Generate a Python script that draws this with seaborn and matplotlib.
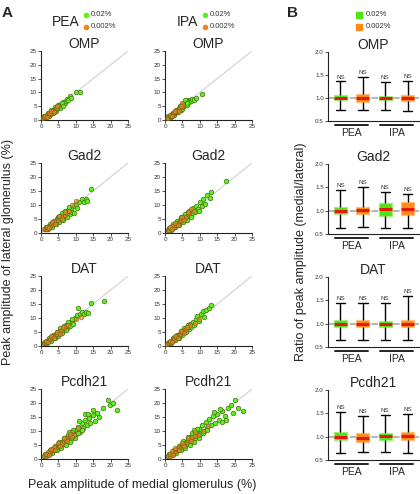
import numpy as np
import pandas as pd
import matplotlib
matplotlib.use("Agg")
import matplotlib.pyplot as plt
import matplotlib.transforms as mtrans
from matplotlib.lines import Line2D
from matplotlib.patches import Rectangle
import matplotlib.colors as mcolors
import seaborn as sns

sns.set_theme(style="white")
plt.rcParams['font.family'] = ['Liberation Sans', 'DejaVu Sans']

# ---------------- data ----------------
markers = ["OMP", "Gad2", "DAT", "Pcdh21"]
odorants = ["PEA", "IPA"]
concs = ["0.02%", "0.002%"]
axis_ticks = [0, 5, 10, 15, 20, 25]
ratio_ticks = [0.5, 1.0, 1.5, 2.0]
box_groups = ["PEA 0.02%", "PEA 0.002%", "IPA 0.02%", "IPA 0.002%"]

# (medial, lateral) peak amplitudes, %
omp_pea_hi = [(0.8,0.7),(1.1,1.2),(1.4,1.3),(1.6,1.8),(1.9,1.7),(2.1,2.2),(2.3,1.9),(2.5,2.6),(2.7,2.3),(2.9,3.0),(3.1,2.7),(3.3,3.4),(3.5,3.0),(3.7,3.7),(3.9,3.4),(4.1,4.1),(4.3,3.8),(4.5,4.6),(4.7,4.2),(4.9,5.0),(5.1,4.6),(5.3,5.4),(5.6,5.1),(5.8,5.9),(6.1,5.6),(6.4,6.5),(6.8,6.2),(7.1,7.0),(7.5,7.6),(7.9,7.3),(8.3,8.7),(8.7,8.1),(10.1,10.0),(11.2,10.3),
              (1.0,1.4),(1.5,1.0),(2.0,2.6),(2.4,1.6),(3.0,3.6),(3.4,2.5),(4.0,4.7),(4.4,3.3),(5.0,5.5),(5.4,4.2),(6.0,6.3),(6.2,5.0)]
omp_pea_lo = [(0.6,0.6),(0.9,1.0),(1.3,1.1),(1.6,1.5),(2.0,1.9),(2.4,2.3),(2.6,2.0),(2.9,2.7),(3.3,3.1),(3.6,3.4),(4.0,3.7),(4.3,4.2),(4.6,4.3),(5.0,4.9),(3.1,3.4),(2.2,2.5),
              (1.2,1.5),(1.8,1.2),(2.8,3.2),(3.8,3.0),(4.6,5.0)]
omp_ipa_hi = [(0.8,0.8),(1.1,1.0),(1.4,1.5),(1.7,1.6),(2.0,2.1),(2.3,2.0),(2.5,2.6),(2.8,2.5),(3.0,3.1),(3.3,2.9),(3.5,3.6),(3.8,3.4),(4.0,4.2),(4.3,3.9),(4.5,4.7),(4.8,4.4),(5.0,5.3),(5.2,4.8),(5.5,6.3),(5.8,5.7),(6.0,6.6),(6.3,5.5),(6.6,7.1),(6.9,6.4),(7.2,7.4),(7.5,6.9),(7.9,7.6),(8.3,7.2),(8.8,7.8),(5.7,7.2),(6.4,6.1),(10.5,9.6),
              (1.0,1.4),(1.6,1.1),(2.2,2.7),(2.6,1.9),(3.2,3.7),(3.6,2.8),(4.2,4.9),(4.6,3.6),(5.3,5.9),(5.0,4.1)]
omp_ipa_lo = [(0.6,0.6),(1.0,0.9),(1.3,1.3),(1.6,1.4),(2.0,1.8),(2.3,2.3),(2.7,2.4),(3.0,2.8),(3.3,3.2),(3.7,3.5),(4.0,3.9),(4.4,4.3),(4.8,4.8),(5.2,5.4),(4.9,6.0),(2.5,2.9),
              (1.3,1.7),(1.9,1.3),(2.9,3.3),(3.9,3.1),(4.5,5.0)]

gad2_pea_hi = [(1.2,1.6),(1.5,1.3),(1.8,2.0),(2.1,1.8),(2.4,2.6),(2.7,2.2),(3.0,3.2),(3.3,2.7),(3.5,3.8),(3.8,3.3),(4.0,4.4),(4.3,3.8),(4.5,5.0),(4.8,4.3),(5.0,5.6),(5.3,4.7),(5.5,6.1),(5.8,5.2),(6.0,6.6),(6.3,5.6),(6.6,7.0),(6.9,5.9),(7.2,7.5),(7.5,6.3),(7.8,8.2),(8.2,6.8),(8.6,9.0),(9.0,7.6),(9.5,9.8),(10.0,10.5),(10.4,8.8),(11.0,11.2),(11.8,12.2),(12.3,11.0),(12.8,12.3),(13.2,11.5),(9.4,7.2),(14.5,15.6),
               (1.5,2.1),(2.0,1.4),(2.6,3.2),(3.1,2.2),(3.7,4.4),(4.2,3.1),(4.8,5.5),(5.3,3.9),(6.0,7.0),(6.4,4.8),(7.0,8.0),(7.6,5.6),(8.0,9.2)]
gad2_pea_lo = [(1.0,1.3),(1.4,1.6),(1.8,1.6),(2.2,2.3),(2.6,2.4),(3.0,2.9),(3.4,3.3),(3.8,3.9),(4.2,4.0),(4.6,4.6),(5.0,4.8),(5.4,5.4),(5.8,5.6),(6.2,6.0),(6.8,6.6),(7.4,7.1),(8.0,8.0),(9.0,10.0),(10.2,11.3),(3.6,4.3),
               (1.6,2.2),(2.4,1.8),(3.2,3.8),(4.0,3.3),(5.2,5.9),(6.0,5.0),(7.0,7.6)]
gad2_ipa_hi = [(1.0,1.2),(1.3,1.5),(1.6,1.4),(1.9,2.1),(2.2,1.9),(2.5,2.8),(2.8,2.5),(3.1,3.5),(3.4,3.0),(3.7,4.1),(4.0,3.6),(4.3,4.7),(4.6,4.2),(4.9,5.3),(5.2,4.7),(5.5,6.1),(5.8,5.3),(6.1,6.7),(6.4,5.9),(6.7,7.4),(7.0,6.4),(7.3,8.0),(7.7,7.1),(8.1,8.8),(8.5,7.6),(9.0,9.8),(9.5,8.4),(10.0,11.0),(10.5,9.5),(11.0,12.2),(11.6,10.4),(12.2,13.4),(12.8,12.6),(13.3,14.8),(9.8,8.0),(17.5,18.6),
               (1.2,1.8),(1.8,1.2),(2.4,3.1),(2.9,2.1),(3.5,4.4),(4.0,3.0),(4.6,5.6),(5.1,3.9),(5.7,6.8),(6.2,4.8),(6.8,7.9),(7.4,5.8)]
gad2_ipa_lo = [(0.8,0.9),(1.2,1.1),(1.5,1.7),(1.9,1.6),(2.3,2.4),(2.7,2.3),(3.1,3.0),(3.5,3.6),(3.9,3.5),(4.3,4.3),(4.7,4.8),(5.1,4.9),(5.5,5.7),(6.0,5.8),(6.5,6.8),(7.0,7.2),(7.6,8.4),(8.3,8.0),(2.0,2.6),
               (1.4,2.0),(2.1,1.5),(3.0,3.6),(3.8,3.0),(4.8,5.6),(5.6,4.6),(6.6,7.5)]

dat_pea_hi = [(0.9,1.0),(1.2,1.3),(1.5,1.2),(1.8,1.9),(2.1,1.7),(2.4,2.5),(2.7,2.2),(3.0,3.1),(3.3,2.7),(3.6,3.7),(3.9,3.2),(4.2,4.3),(4.5,3.8),(4.8,4.9),(5.1,4.3),(5.4,5.6),(5.7,4.9),(6.0,6.2),(6.3,5.4),(6.6,6.9),(6.9,6.0),(7.2,7.6),(7.6,6.6),(8.0,8.3),(8.4,7.2),(8.8,9.0),(9.3,8.0),(9.8,10.0),(10.3,11.0),(10.7,13.4),(11.2,11.6),(11.8,12.3),(12.4,11.5),(13.0,12.1),(13.5,11.8),(14.5,15.2),(18.0,16.0),(9.0,9.8),
              (1.1,1.6),(1.7,1.1),(2.3,2.9),(2.8,1.9),(3.4,4.0),(3.9,2.8),(4.5,5.1),(5.0,3.7),(5.6,6.3),(6.1,4.6),(6.7,7.3),(7.3,5.6),(7.9,8.5)]
dat_pea_lo = [(0.8,0.9),(1.1,1.1),(1.5,1.5),(1.9,1.7),(2.3,2.2),(2.7,2.6),(3.1,2.9),(3.5,3.4),(3.9,3.7),(4.3,4.1),(4.7,4.4),(5.1,5.0),(5.5,5.2),(6.0,5.8),(6.6,6.3),(7.2,7.1),(7.9,7.6),(10.2,9.8),(11.4,10.3),
              (1.3,1.8),(2.0,1.4),(2.9,3.4),(3.7,2.9),(4.6,5.0),(5.4,4.4),(6.3,6.8)]
dat_ipa_hi = [(0.9,0.9),(1.2,1.2),(1.5,1.4),(1.8,1.9),(2.1,1.8),(2.4,2.5),(2.7,2.3),(3.0,3.1),(3.3,2.8),(3.6,3.8),(3.9,3.4),(4.2,4.4),(4.5,3.9),(4.8,5.0),(5.1,4.5),(5.4,5.7),(5.7,5.1),(6.0,6.4),(6.3,5.7),(6.6,7.0),(6.9,6.2),(7.2,7.7),(7.6,6.8),(8.0,8.6),(8.4,7.4),(8.8,9.5),(9.3,10.8),(9.8,9.0),(10.3,11.6),(10.8,12.5),(11.3,10.2),(11.9,13.0),(12.6,13.6),(13.2,14.5),
              (1.1,1.5),(1.7,1.1),(2.3,2.8),(2.8,2.0),(3.4,4.0),(3.9,2.9),(4.5,5.2),(5.0,3.9),(5.6,6.5),(6.1,4.9),(6.7,7.6)]
dat_ipa_lo = [(0.7,0.8),(1.1,1.0),(1.5,1.6),(1.9,1.8),(2.3,2.4),(2.7,2.6),(3.1,3.2),(3.5,3.4),(3.9,4.0),(4.3,4.2),(4.7,4.9),(5.1,5.0),(5.5,5.8),(6.0,5.9),(6.6,6.7),(7.3,7.6),(8.5,8.3),(9.9,9.6),
              (1.3,1.8),(2.0,1.5),(2.9,3.5),(3.7,3.0),(4.6,5.3),(5.4,4.6),(6.2,6.9)]

pcdh21_pea_hi = [(1.0,1.1),(1.4,1.3),(1.8,1.9),(2.2,1.8),(2.6,2.7),(3.0,2.5),(3.4,3.5),(3.8,3.1),(4.2,4.4),(4.6,3.8),(5.0,5.2),(5.4,4.5),(5.8,6.0),(6.2,5.2),(6.6,6.9),(7.0,5.9),(7.4,7.7),(7.8,6.6),(8.2,8.6),(8.6,7.3),(9.0,9.4),(9.4,8.0),(9.8,10.4),(10.2,8.8),(10.7,11.5),(11.2,9.8),(11.7,12.7),(12.2,11.0),(12.7,13.8),(13.2,12.0),(13.7,14.8),(14.2,12.8),(14.8,15.8),(15.4,13.5),(16.0,16.4),(16.8,15.0),(17.8,18.1),(19.3,21.1),(19.8,19.3),(20.7,19.9),(21.7,17.5),(12.5,16.0),(11.0,13.5),
                 (1.2,1.7),(1.9,1.3),(2.6,3.2),(3.2,2.1),(3.9,4.6),(4.5,3.1),(5.2,6.0),(5.8,4.0),(6.5,7.4),(7.1,5.0),(7.8,8.7),(8.4,6.0),(9.1,10.2),(9.8,7.4),(10.6,9.2),(11.8,10.2),(8.0,9.8),(13.5,16.2),(15.0,17.5)]
pcdh21_pea_lo = [(0.9,1.0),(1.3,1.2),(1.7,1.7),(2.1,2.0),(2.5,2.5),(2.9,2.7),(3.3,3.3),(3.7,3.5),(4.1,4.1),(4.5,4.2),(4.9,4.9),(5.3,5.0),(5.7,5.7),(6.1,5.8),(6.6,6.6),(7.1,6.9),(7.6,7.6),(8.2,8.1),(8.8,9.8),(10.7,11.0),(9.5,8.7),(2.0,2.6),(3.6,4.2),
                 (1.4,1.9),(2.2,1.6),(3.0,3.7),(3.9,3.2),(4.8,5.6),(5.6,4.6),(6.5,7.4),(7.4,6.3),(8.3,9.0),(9.0,7.8)]
pcdh21_ipa_hi = [(1.0,1.1),(1.4,1.3),(1.8,1.9),(2.2,1.8),(2.6,2.8),(3.0,2.6),(3.4,3.6),(3.8,3.2),(4.2,4.5),(4.6,3.9),(5.0,5.4),(5.4,4.6),(5.8,6.2),(6.2,5.3),(6.6,7.1),(7.0,6.0),(7.4,8.0),(7.8,6.7),(8.2,8.9),(8.6,7.4),(9.0,9.8),(9.4,8.2),(9.8,10.8),(10.2,9.0),(10.7,12.0),(11.2,10.0),(11.7,13.2),(12.2,11.2),(12.7,14.3),(13.2,12.2),(13.8,15.4),(14.4,13.0),(15.0,16.2),(15.6,14.0),(16.4,17.0),(17.2,15.5),(18.0,18.2),(19.0,19.3),(20.1,21.0),(21.0,18.2),(22.5,17.0),(19.5,16.5),(17.5,14.0),
                 (1.2,1.7),(1.9,1.3),(2.6,3.3),(3.2,2.2),(3.9,4.8),(4.5,3.2),(5.2,6.3),(5.8,4.1),(6.5,7.8),(7.1,5.1),(7.8,9.2),(8.4,6.2),(9.1,10.8),(9.8,7.6),(10.8,9.4),(12.0,10.4),(8.2,10.2),(14.0,16.8),(15.8,18.0),(16.5,13.2)]
pcdh21_ipa_lo = [(0.9,1.0),(1.3,1.2),(1.7,1.8),(2.1,2.0),(2.5,2.6),(2.9,2.7),(3.3,3.4),(3.7,3.5),(4.1,4.2),(4.5,4.3),(4.9,5.0),(5.3,5.1),(5.7,5.8),(6.2,6.0),(6.7,6.8),(7.2,7.2),(7.8,7.9),(8.5,9.8),(9.5,8.6),(11.0,10.0),(12.3,11.8),(2.0,2.7),
                 (1.4,1.9),(2.2,1.6),(3.0,3.8),(3.9,3.2),(4.8,5.8),(5.6,4.7),(6.5,7.6),(7.4,6.4),(8.6,8.2)]

# ratio medial/lateral: [lower whisker, Q1, median, Q3, upper whisker] per group
omp_box = [[0.73,0.95,1.00,1.06,1.36],[0.74,0.92,1.00,1.08,1.46],[0.73,0.95,1.00,1.05,1.35],[0.72,0.93,1.00,1.07,1.38]]
gad2_box = [[0.63,0.92,1.00,1.08,1.44],[0.64,0.93,1.01,1.08,1.50],[0.62,0.88,1.03,1.17,1.40],[0.63,0.90,1.03,1.19,1.36]]
dat_box = [[0.65,0.93,1.00,1.07,1.45],[0.65,0.93,1.00,1.07,1.45],[0.64,0.93,1.00,1.06,1.45],[0.65,0.92,1.00,1.08,1.60]]
pcdh21_box = [[0.66,0.92,1.00,1.09,1.53],[0.67,0.89,0.98,1.08,1.45],[0.68,0.92,1.02,1.08,1.47],[0.65,0.92,1.02,1.11,1.49]]

scatter_sets = [
    [(omp_pea_hi, omp_pea_lo), (omp_ipa_hi, omp_ipa_lo)],
    [(gad2_pea_hi, gad2_pea_lo), (gad2_ipa_hi, gad2_ipa_lo)],
    [(dat_pea_hi, dat_pea_lo), (dat_ipa_hi, dat_ipa_lo)],
    [(pcdh21_pea_hi, pcdh21_pea_lo), (pcdh21_ipa_hi, pcdh21_ipa_lo)],
]
box_sets = [omp_box, gad2_box, dat_box, pcdh21_box]

# ---------------- style ----------------
GREEN = "#5cf01e"
ORANGE = "#ee8320"
BOX_GREEN = "#4fe414"
BOX_ORANGE = "#ff8a14"
W, H = 420, 494

fig = plt.figure(figsize=(W / 100, H / 100), dpi=100)
fig.patch.set_facecolor("white")


def fig_axes(x0, y0, x1, y1):
    return fig.add_axes([x0 / W, 1 - y1 / H, (x1 - x0) / W, (y1 - y0) / H])


rows_px = [(51, 120), (163, 233), (276, 346), (389, 459)]
cols_px = [(41, 128), (165, 252)]
box_x = (328, 419)


def style_axes(ax):
    for s in ["top", "right"]:
        ax.spines[s].set_visible(False)
    for s in ["left", "bottom"]:
        ax.spines[s].set_color("#222222")
        ax.spines[s].set_linewidth(0.8)
    ax.tick_params(axis="both", labelsize=4.5, length=2, width=0.6, pad=1,
                   colors="#333333", direction="out", left=True, bottom=True)
    ax.set_facecolor("white")


def scatter_panel(ax, hi, lo, title):
    ax.plot([0, 25], [0, 25], color="#d0d0d0", lw=0.8, zorder=0)
    dhi = pd.DataFrame(hi, columns=["medial", "lateral"])
    dlo = pd.DataFrame(lo, columns=["medial", "lateral"])
    sns.scatterplot(data=dhi, x="medial", y="lateral", ax=ax, color=GREEN, s=11,
                    edgecolor="#4a6e14", linewidth=0.5, alpha=1.0, zorder=2)
    sns.scatterplot(data=dlo, x="medial", y="lateral", ax=ax, color=ORANGE, s=11,
                    edgecolor="#59641a", linewidth=0.5, alpha=0.7, zorder=3)
    ax.set_xlim(0, 25)
    ax.set_ylim(0, 25)
    ax.set_xticks(axis_ticks)
    ax.set_yticks(axis_ticks)
    ax.set_xlabel("")
    ax.set_ylabel("")
    style_axes(ax)
    ax.set_title(title, fontsize=10, pad=2)


def lighten(c, f=0.45):
    r, g, b = mcolors.to_rgb(c)
    return (r + (1 - r) * f, g + (1 - g) * f, b + (1 - b) * f)


def box_panel(ax, stats, title):
    rows = []
    for g, st in zip(box_groups, stats):
        for v in st:
            rows.append((g, v))
    df = pd.DataFrame(rows, columns=["group", "ratio"])
    ax.axhline(1.0, color="#a9a9a9", lw=1.2, ls=(0, (4, 2.5)), zorder=0)
    sns.boxplot(data=df, x="group", y="ratio", hue="group", order=box_groups,
                hue_order=box_groups,
                palette=[BOX_GREEN, BOX_ORANGE, BOX_GREEN, BOX_ORANGE],
                whis=(0, 100), width=0.58, legend=False, ax=ax, showfliers=False,
                linecolor="black", linewidth=1.0,
                medianprops=dict(color="#e31a0c", linewidth=2.2),
                boxprops=dict(linewidth=0.8), capwidths=0.42)
    for p, col in zip(ax.patches, [BOX_GREEN, BOX_ORANGE, BOX_GREEN, BOX_ORANGE]):
        p.set_facecolor(col)
        p.set_edgecolor(lighten(col))
        p.set_linewidth(0.9)
    for i, st in enumerate(stats):
        ax.text(i, st[4] + 0.04, "NS", ha="center", va="bottom", fontsize=4.5,
                color="#333333")
    ax.set_ylim(0.5, 2.0)
    ax.set_xlim(-0.55, 3.5)
    ax.set_yticks(ratio_ticks)
    ax.set_yticklabels([f"{t:.1f}" for t in ratio_ticks])
    ax.set_xticks([])
    ax.set_xlabel("")
    ax.set_ylabel("")
    style_axes(ax)
    trans = mtrans.blended_transform_factory(ax.transData, ax.transAxes)
    for (a, b), lab in zip([(-0.23, 1.23), (1.77, 3.23)], odorants):
        ax.add_line(Line2D([a, b], [-0.06, -0.06], transform=trans, color="#222222",
                           lw=1.4, clip_on=False))
        ax.text((a + b) / 2, -0.1, lab, transform=trans, ha="center", va="top",
                fontsize=7.5)
    ax.set_title(title, fontsize=10, pad=2)


for r, mk in enumerate(markers):
    y0, y1 = rows_px[r]
    for c in range(2):
        x0, x1 = cols_px[c]
        ax = fig_axes(x0, y0, x1, y1)
        hi, lo = scatter_sets[r][c]
        scatter_panel(ax, hi, lo, mk)
    axb = fig_axes(box_x[0], y0 + 1, box_x[1], y1 + 1)
    box_panel(axb, box_sets[r], mk)

# ---------------- figure annotations ----------------
def ftxt(x, y, s, **kw):
    fig.text(x / W, 1 - y / H, s, **kw)


ftxt(2, 13, "A", fontsize=11, fontweight="bold", va="center", ha="left")
ftxt(287, 13, "B", fontsize=11, fontweight="bold", va="center", ha="left")

for (tx, dx), od in zip([(52, 86), (177, 205)], odorants):
    ftxt(tx, 22, od, fontsize=10, va="center", ha="left")
    fig.add_artist(Line2D([dx / W], [1 - 15 / H], marker="o", ms=3, color=GREEN,
                          mec=GREEN, ls="none", transform=fig.transFigure))
    fig.add_artist(Line2D([dx / W], [1 - 27 / H], marker="o", ms=3, color=ORANGE,
                          mec=ORANGE, ls="none", transform=fig.transFigure))
    ftxt(dx + 5, 15, concs[0], fontsize=5.5, va="center", ha="left", color="#333333")
    ftxt(dx + 5, 27, concs[1], fontsize=5.5, va="center", ha="left", color="#333333")

for yy, col, lab in [(15, BOX_GREEN, concs[0]), (27, BOX_ORANGE, concs[1])]:
    fig.add_artist(Rectangle(((359 - 3) / W, 1 - (yy + 3) / H), 6 / W, 6 / H,
                             transform=fig.transFigure, color=col))
    ftxt(366, yy, lab, fontsize=5.5, va="center", ha="left", color="#333333")

ftxt(8, 252, "Peak amplitude of lateral glomerulus (%)", fontsize=9,
     rotation=90, va="center", ha="center")
ftxt(142, 485, "Peak amplitude of medial glomerulus (%)", fontsize=9,
     va="center", ha="center")
ftxt(301, 252, "Ratio of peak amplitude (medial/lateral)", fontsize=9,
     rotation=90, va="center", ha="center")

fig.savefig("out.png", dpi=100, facecolor="white")
